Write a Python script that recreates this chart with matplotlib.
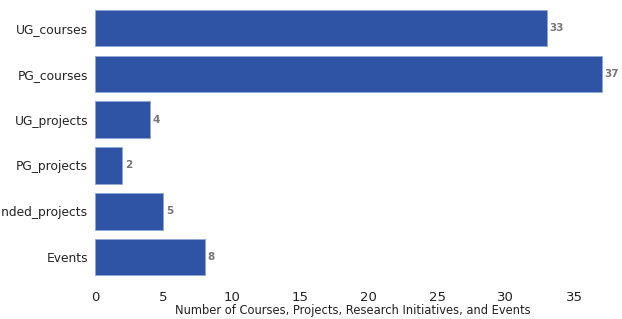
import matplotlib
matplotlib.use("Agg")
import matplotlib.pyplot as plt

categories = ["UG_courses", "PG_courses", "UG_projects", "PG_projects", "Funded_projects", "Events"]
counts = [33, 37, 4, 2, 5, 8]

BAR_COLOR = "#2f54a5"
VALUE_COLOR = "#777777"

fig = plt.figure(figsize=(6.22, 3.19), dpi=100)
ax = fig.add_axes([0.1527, 0.095, 0.828, 0.916])

bars = ax.barh(categories, counts, height=0.8, color=BAR_COLOR,
               edgecolor="#8fa6d6", linewidth=0.6)
ax.set_ylim(5.69, -0.69)
ax.set_xlim(0, 37.6)

for bar, val in zip(bars, counts):
    ax.text(bar.get_width() + 0.2, bar.get_y() + bar.get_height() / 2, str(val),
            ha="left", va="center", fontsize=7.5, fontweight="bold", color=VALUE_COLOR)

for side in ["top", "right", "left", "bottom"]:
    ax.spines[side].set_visible(False)
ax.tick_params(axis="both", length=0, colors="#222222")
ax.tick_params(axis="y", pad=5, labelsize=8.8)
ax.tick_params(axis="x", pad=2, labelsize=9.5)
ax.set_xlabel("Number of Courses, Projects, Research Initiatives, and Events",
              fontsize=8.3, color="#222222", labelpad=0)

fig.savefig("out.png", dpi=100, facecolor="white")
